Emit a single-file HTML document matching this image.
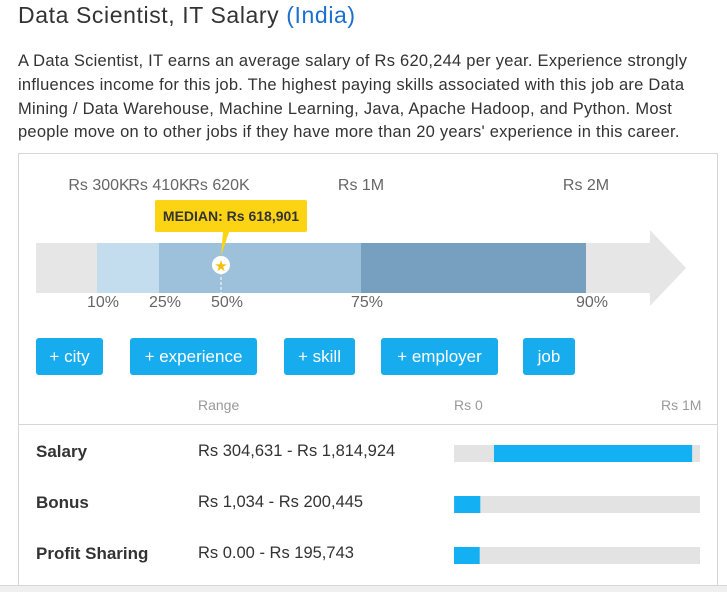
<!DOCTYPE html>
<html><head><meta charset="utf-8">
<style>
*{margin:0;padding:0;box-sizing:border-box}
body{width:727px;height:592px;background:#fff;font-family:"Liberation Sans",sans-serif;color:#333;position:relative;overflow:hidden}
.a{position:absolute;white-space:nowrap}
#title{left:18px;top:2px;font-size:23px;letter-spacing:0.6px;color:#333}
#title span{color:#1a6fd1}
.pl{left:18px;font-size:16.5px;letter-spacing:0.25px;color:#333}
#panel{left:18px;top:153px;width:700px;height:433px;border:1px solid #d6d6d6;border-bottom:none}
#foot{left:0;top:585px;width:727px;height:7px;background:#efefef;border-top:1px solid #d6d6d6}
.tick{font-size:16px;color:#666;letter-spacing:0;transform:translateX(-50%)}
.btn{top:338px;height:37px;background:#17acee;color:#fff;font-size:17px;border-radius:3px;line-height:37px;text-align:center;letter-spacing:0}
.hdr{top:397px;font-size:14px;color:#999}
.rl{left:36px;font-size:17px;font-weight:bold;color:#333;letter-spacing:0}
.rv{left:198px;font-size:16.5px;color:#333;letter-spacing:0}
</style></head><body>
<div class="a" id="title">Data Scientist, IT Salary <span>(India)</span></div>
<div class="a pl" style="top:52px">A Data Scientist, IT earns an average salary of Rs 620,244 per year. Experience strongly</div>
<div class="a pl" style="top:76px">influences income for this job. The highest paying skills associated with this job are Data</div>
<div class="a pl" style="top:100px">Mining / Data Warehouse, Machine Learning, Java, Apache Hadoop, and Python. Most</div>
<div class="a pl" style="top:123px">people move on to other jobs if they have more than 20 years' experience in this career.</div>
<div class="a" id="panel"></div>
<div class="a" id="foot"></div>
<svg class="a" style="left:0;top:0" width="727" height="592" id="chart"></svg>
<div id="labels"></div>
<div class="a btn" style="left:36px;width:67px">+ city</div>
<div class="a btn" style="left:130px;width:127px">+ experience</div>
<div class="a btn" style="left:284px;width:71px">+ skill</div>
<div class="a btn" style="left:381px;width:117px">+ employer</div>
<div class="a btn" style="left:523px;width:52px">job</div>
<div class="a hdr" style="left:198px">Range</div>
<div class="a hdr" style="left:454px">Rs 0</div>
<div class="a hdr" style="left:661px">Rs 1M</div>
<div class="a" style="left:19px;top:424px;width:698px;height:1px;background:#d6d6d6"></div>
<div id="rows"></div>
<script>
const pctLabels=["10%","25%","50%","75%","90%"];
const valLabels=["Rs 300K","Rs 410K","Rs 620K","Rs 1M","Rs 2M"];
const pctValues=[304631,410000,618901,1000000,1814924];
const median=618901;
const rowNames=["Salary","Bonus","Profit Sharing"];
const rowText=["Rs 304,631 - Rs 1,814,924","Rs 1,034 - Rs 200,445","Rs 0.00 - Rs 195,743"];
const rowLow=[304631,1034,0];
const rowHigh=[1814924,200445,195743];
const bp=[97,159,221,361,586];
function xP(v){for(let i=0;i<pctValues.length-1;i++){if(v<=pctValues[i+1]){const t=(v-pctValues[i])/(pctValues[i+1]-pctValues[i]);return bp[i]+t*(bp[i+1]-bp[i]);}}return bp[bp.length-1];}
function xR(v){return 454+v/1875000*246;}
const NS="http://www.w3.org/2000/svg";
const svg=document.getElementById('chart');
function mk(t,a){const e=document.createElementNS(NS,t);for(const k in a)e.setAttribute(k,a[k]);svg.appendChild(e);return e;}
let e=mk('polygon',{points:"36,243 650,243 650,230 686,268 650,306 650,293 36,293",fill:"#e6e6e6"});


const cols=["#c3ddee","#9dc1db","#9dc1db","#769fc0"];
for(let i=0;i<pctValues.length-1;i++){
 const x0=xP(pctValues[i]),x1=xP(pctValues[i+1]);
 e=mk('rect',{x:x0,y:243,width:x1-x0,height:50,fill:cols[i]});
 
 
}
const mx=xP(median);
e=mk('line',{x1:mx,y1:272,x2:mx,y2:293,stroke:"#fff","stroke-dasharray":"3,2"});


e=mk('circle',{cx:mx,cy:265,r:9,fill:"#fff"});


e=mk('text',{x:mx,y:271,"text-anchor":"middle","font-size":"15",fill:"#f5c000"});e.textContent="★";


e=mk('rect',{x:mx-66,y:200,width:152,height:32,rx:2,fill:"#fdd414"});


e=mk('polygon',{points:`${mx},256 ${mx+2},232 ${mx+8},232`,fill:"#fdd414"});


e=mk('text',{x:mx+10,y:221,"text-anchor":"middle","font-size":"14","font-weight":"bold",fill:"#333"});e.textContent="MEDIAN: Rs 618,901";


const lab=document.getElementById('labels');
for(let i=0;i<pctValues.length;i++){
 const x=xP(pctValues[i]);
 let d=document.createElement('div');d.className='a tick';d.style.left=(x+(i<3?[2,0,-2][i]:0))+'px';d.style.top='177px';d.textContent=valLabels[i];
 
 
 lab.appendChild(d);
 d=document.createElement('div');d.className='a tick';d.style.left=(x+6)+'px';d.style.top='294px';d.textContent=pctLabels[i];
 
 
 lab.appendChild(d);
}
const rows=document.getElementById('rows');
for(let i=0;i<rowNames.length;i++){
 const y=445+i*51;
 let d=document.createElement('div');d.className='a rl';d.style.top=(y-3)+'px';d.textContent=rowNames[i];
 
 
 rows.appendChild(d);
 d=document.createElement('div');d.className='a rv';d.style.top=(y-3)+'px';d.textContent=rowText[i];
 
 
 rows.appendChild(d);
 e=mk('rect',{x:454,y:y,width:246,height:17,fill:"#e3e3e3"});
 
 
 e=mk('rect',{x:xR(rowLow[i]),y:y,width:xR(rowHigh[i])-xR(rowLow[i]),height:17,fill:"#13b0f3"});
 
 
}
</script>
</body></html>
